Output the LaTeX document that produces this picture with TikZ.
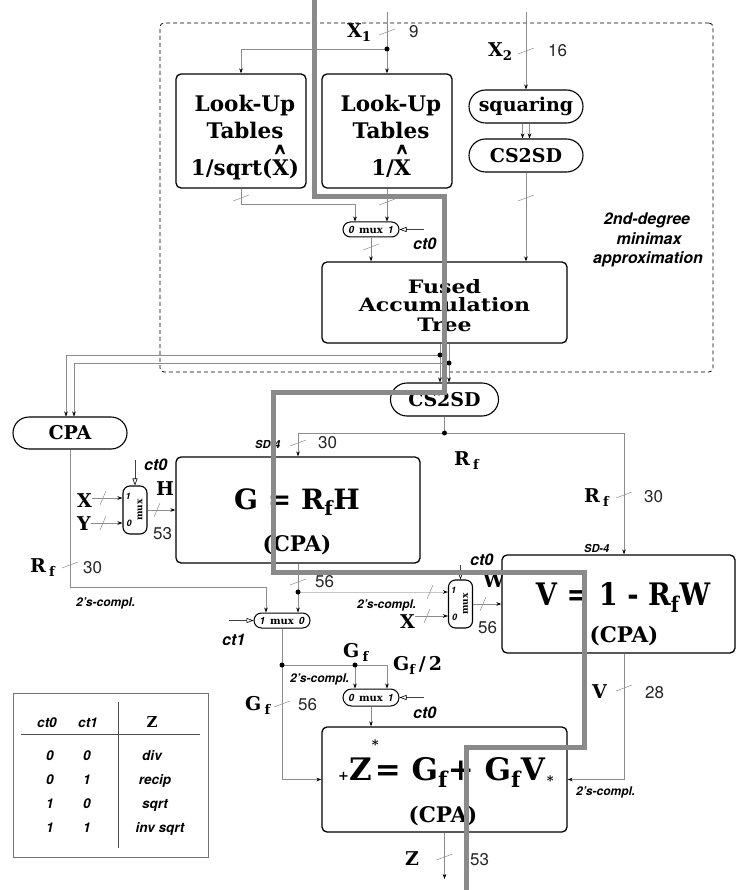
\documentclass[tikz,border=0pt]{standalone}
\usepackage{fontspec}
\setmainfont{DejaVu Serif}
\newfontfamily\hv{TeX Gyre Heros}
\usetikzlibrary{arrows.meta,shapes.misc}
\newcommand\fsz[1]{\fontsize{#1}{#1}\selectfont}
\newcommand\hatX{\setbox0\hbox{X}\rlap{\hbox to\wd0{\hss\smash{\raisebox{-0.5em}{\scalebox{1.3}[2.4]{\char"02C6}}}\hss}}X}
\newcommand\slv[1]{\draw[slashst] (#1) ++(-8,3) -- ++(16,-6);}
\newcommand\slh[1]{\draw[slashst] (#1) ++(-3,7) -- ++(6,-14);}
\begin{document}
\begin{tikzpicture}[x=1pt,y=-1pt,
  wire/.style={draw=black!45,line width=0.6pt},
  lwire/.style={draw=black!22,line width=0.9pt},
  arr/.style={-{Stealth[length=5pt,width=3.6pt,color=black]}},
  ctarr/.style={draw=black!75,line width=0.6pt,-{Triangle[open,length=7pt,width=5pt,color=black]}},
  box/.style={draw=black,line width=1.3pt,rounded corners=5pt,inner sep=0pt},
  pill/.style={draw=black,line width=1.1pt,rounded rectangle,inner sep=0pt,font=\bfseries\fsz{19}},
  vmux/.style={draw=black,line width=1.1pt,rounded corners=7pt,inner sep=0pt,minimum width=24pt,minimum height=48pt},
  hmux/.style={draw=black,line width=1pt,rounded rectangle,inner sep=0pt,minimum width=56pt,minimum height=15pt,font=\bfseries\fsz{10}},
  dot/.style={circle,fill=black,inner sep=0pt,minimum size=5pt},
  slashst/.style={draw=black!45,line width=0.5pt},
  lbl/.style={font=\bfseries\fsz{19},inner sep=0pt,anchor=base west},
  num/.style={font=\hv\fsz{17},inner sep=0pt,anchor=base west,text=black!85},
  ital/.style={font=\hv\bfseries\itshape\fsz{12},inner sep=0pt,anchor=base west},
  tital/.style={font=\hv\bfseries\itshape\fsz{13.5},inner sep=0pt,anchor=base},
  btxt/.style={font=\bfseries\fsz{21.5},inner sep=0pt,anchor=base},
  ftxt/.style={font=\bfseries\fsz{21},inner sep=0pt,anchor=base},
  gpath/.style={draw=black!46,line width=5pt},
  muxd/.style={font=\hv\bfseries\itshape\fsz{9},inner sep=0pt},
]
\fill[white] (0,0) rectangle (737,890);
\useasboundingbox (0,0) rectangle (737,890);

% dashed region
\node[draw=black,dash pattern=on 4pt off 3pt,line width=0.8pt,rounded corners=4pt,minimum width=553pt,minimum height=349pt,inner sep=0pt] (approx) at (436.5,197.5) {};
\node[font=\hv\bfseries\itshape\fsz{16},inner sep=0pt,anchor=base] (ap1) at (647,225) {2nd-degree};
\node[font=\hv\bfseries\itshape\fsz{16},inner sep=0pt,anchor=base] (ap2) at (649,245) {minimax};
\node[font=\hv\bfseries\itshape\fsz{16},inner sep=0pt,anchor=base] (ap3) at (648,264) {approximation};

% boxes
\node[box,minimum width=130pt,minimum height=114pt] (lut1) at (241,131) {};
\node[box,minimum width=130pt,minimum height=114pt] (lut2) at (387,131) {};
\node[pill,minimum width=114pt,minimum height=33pt] (sq) at (526,106.5) {squaring};
\node[pill,minimum width=114pt,minimum height=33pt] (cs1) at (526,155.5) {CS2SD};
\node[hmux] (mux1) at (371,229.5) {{\hv\itshape 0}\hspace{5pt}mux\hspace{5pt}{\hv\itshape 1}};
\node[box,minimum width=245pt,minimum height=81pt] (fat) at (444.5,302.5) {};
\node[pill,minimum width=108pt,minimum height=33pt] (cs2) at (444.5,399.5) {CS2SD};
\node[pill,minimum width=114pt,minimum height=32pt] (cpa) at (70,433) {CPA};
\node[vmux] (muxH) at (135,510) {};
\node[box,minimum width=244pt,minimum height=106pt] (gbox) at (298,510) {};
\node[hmux] (mux2) at (282,620.5) {{\hv\itshape 1}\hspace{5pt}mux\hspace{5pt}{\hv\itshape 0}};
\node[vmux] (muxW) at (460.5,604) {};
\node[box,minimum width=233pt,minimum height=98pt] (vbox) at (618.5,604) {};
\node[hmux,minimum height=17pt] (mux3) at (371,697.5) {{\hv\itshape 0}\hspace{5pt}mux\hspace{5pt}{\hv\itshape 1}};
\node[box,minimum width=245pt,minimum height=105pt] (zbox) at (444.5,779.5) {};

% vertical mux contents
\node[muxd] (mh1) at (128,496) {1};
\node[muxd] (mh0) at (129,523) {0};
\node[font=\bfseries\fsz{9},inner sep=0pt,rotate=90] (mhm) at (140,510) {mux};
\node[muxd] (mw1t) at (453.5,590) {1};
\node[muxd] (mw0t) at (454.5,617) {0};
\node[font=\bfseries\fsz{9},inner sep=0pt,rotate=90] (mwm) at (465.5,604) {mux};

% box texts
\node[btxt] (t1a) at (245,112) {Look-Up};
\node[btxt] (t1b) at (245,139) {Tables};
\node[btxt] (t1c) at (245,176) {1/sqrt(\hatX)};
\node[btxt] (t2a) at (391,112) {Look-Up};
\node[btxt] (t2b) at (391,139) {Tables};
\node[btxt] (t2c) at (391,176) {1/\hatX};
\node[ftxt] (f1) at (444.5,293) {\scalebox{1.05}[0.88]{Fused}};
\node[ftxt] (f2) at (444.5,311) {\scalebox{1.05}[0.88]{Accumulation}};
\node[ftxt] (f3) at (444.5,331) {\scalebox{1.05}[0.88]{Tree}};
\node[btxt,font=\bfseries\fsz{28}] (g1) at (297,509) {G = R\textsubscript{f}H};
\node[btxt] (g2) at (297,551) {(CPA)};
\node[btxt,font=\bfseries\fsz{31}] (v1) at (623,605) {\scalebox{0.88}[1]{V = 1 - R\textsubscript{f}W}};
\node[btxt] (v2) at (624,642) {(CPA)};
\node[btxt,font=\bfseries\fsz{31}] (z1) at (446,780) {{\fsz{13}+}Z\rlap{\raisebox{0.98em}{\fsz{13}*}}\kern3pt= G\textsubscript{f}+\ G\textsubscript{f}V\kern2pt\raisebox{-0.18em}{\fsz{13}*}};
\node[btxt] (z2) at (443,822) {(CPA)};

% coordinates
\coordinate (x1in) at (387,12);
\coordinate (d1) at (387,49);
\coordinate (x2in) at (526,12);
\coordinate (c0a) at (424,229.5);
\coordinate (da) at (440,355);
\coordinate (db) at (449,363);
\coordinate (dr) at (444.5,433);
\coordinate (vx) at (624,0);
\coordinate (cpay) at (0,587);
\coordinate (c0h) at (135,460);
\coordinate (mhi1) at ([yshift=12pt]muxH.west);
\coordinate (mhi0) at ([yshift=-13pt]muxH.west);
\coordinate (mwi1) at ([yshift=12pt]muxW.west);
\coordinate (mwi0) at ([yshift=-12pt]muxW.west);
\coordinate (dg) at (298,592);
\coordinate (c1) at (229,620.5);
\coordinate (dgf) at (282,665);
\coordinate (dgf2) at (355,665);
\coordinate (c0c) at (424,697.5);
\coordinate (c0w) at (460.5,565);
\coordinate (zout) at (444.5,879);

% labels
\node[lbl] (lx1) at (347,38) {X\textsubscript{1}};
\node[num] (n9) at (409,38) {9};
\node[lbl] (lx2) at (488,57) {X\textsubscript{2}};
\node[num] (n16) at (548,57) {16};
\node[ital,font=\hv\bfseries\itshape\fsz{16}] (ct0a) at (413,250) {ct0};
\node[ital,font=\hv\bfseries\itshape\fsz{11}] (sd4a) at (255,448) {SD-4};
\node[num] (n30a) at (318,448) {30};
\node[lbl] (lrf1) at (454,465) {R\,\textsubscript{f}};
\node[lbl] (lrf2) at (584,502) {R\,\textsubscript{f}};
\node[num] (n30b) at (644,502) {30};
\node[ital,font=\hv\bfseries\itshape\fsz{11}] (sd4b) at (584,552) {SD-4};
\node[ital,font=\hv\bfseries\itshape\fsz{16}] (ct0b) at (144,470) {ct0};
\node[lbl] (lX) at (77,507) {X};
\node[lbl] (lY) at (77,530) {Y};
\node[lbl] (lH) at (156,495) {H};
\node[num] (n53a) at (153,539) {53};
\node[lbl] (lrf3) at (30,572) {R\,\textsubscript{f}};
\node[num] (n30c) at (83,573) {30};
\node[ital] (tc1) at (76,606) {2’s-compl.};
\node[num] (n56a) at (315,587) {56};
\node[ital,font=\hv\bfseries\itshape\fsz{16}] (ct0c) at (470,565) {ct0};
\node[lbl] (lW) at (483,587) {W};
\node[num] (n56b) at (478,633) {56};
\node[ital] (tc2) at (357,608) {2’s-compl.};
\node[lbl] (lXw) at (400,628) {X};
\node[ital,font=\hv\bfseries\itshape\fsz{16}] (ct1) at (222,645) {ct1};
\node[lbl] (lgf1) at (343,657) {G\,\textsubscript{f}};
\node[lbl] (lgf2) at (393,670) {G\textsubscript{f}\,/\,2};
\node[ital] (tc3) at (290,682) {2’s-compl.};
\node[lbl] (lgf3) at (245,710) {G\,\textsubscript{f}};
\node[num] (n56c) at (298,710) {56};
\node[ital,font=\hv\bfseries\itshape\fsz{16}] (ct0d) at (413,718) {ct0};
\node[lbl] (lV) at (592,698) {V};
\node[num] (n28) at (645,698) {28};
\node[ital] (tc4) at (576,795) {2’s-compl.};
\node[lbl] (lZ) at (405,865) {Z};
\node[num] (n53b) at (470,865) {53};

% connectors
\draw[wire,arr] (x1in) -- (lut2.north);
\draw[wire,arr] (d1) -| (lut1.north);
\draw[wire,arr] (x2in) -- (sq.north);
\draw[wire,arr] ([xshift=-3.5pt]sq.south) -- ([xshift=-3.5pt]cs1.north);
\draw[wire,arr] ([xshift=3.5pt]sq.south) -- ([xshift=3.5pt]cs1.north);
\draw[wire,arr] (cs1.south) -- (cs1.south |- fat.north);
\draw[wire,arr] (lut1.south) -- ++(0,16) -| ([xshift=-16pt]mux1.north);
\draw[wire,arr] (lut2.south) -- ([xshift=16pt]mux1.north);
\draw[ctarr] (c0a) -- (mux1.east);
\draw[wire,arr] (mux1.south) -- (mux1.south |- fat.north);
\draw[wire,arr] ([xshift=-4.5pt]fat.south) -- ([xshift=-4.5pt]fat.south |- cs2.north);
\draw[wire,arr] ([xshift=4.5pt]fat.south) -- ([xshift=4.5pt]fat.south |- cs2.north);
\draw[wire,arr] (da) -| ([xshift=-4pt]cpa.north);
\draw[wire,arr] (db) -| ([xshift=4pt]cpa.north);
\draw[wire] (cs2.south) -- (dr);
\draw[wire,arr] (dr) -| (gbox.north);
\draw[wire,arr] (dr) -| (vbox.north -| vx);
\draw[ctarr] (c0h) -- (muxH.north);
\draw[wire,arr] (lX.east |- mhi1) -- (mhi1);
\draw[wire,arr] (lY.east |- mhi0) -- (mhi0);
\draw[wire,arr] (muxH.east) -- (muxH.east -| gbox.west);
\draw[wire,arr] (cpa.south) -- (cpa.south |- cpay) -| ([xshift=-16pt]mux2.north);
\draw[wire,arr] (gbox.south) -- ([xshift=16pt]mux2.north);
\draw[lwire,arr] (dg) -- (mwi1);
\draw[wire,arr] (lXw.east |- mwi0) -- (mwi0);
\draw[ctarr] (c0w) -- (muxW.north);
\draw[wire,arr] (muxW.east) -- (muxW.east -| vbox.west);
\draw[ctarr] (c1) -- (mux2.west);
\draw[wire] (mux2.south) -- (dgf);
\draw[wire,arr] (dgf) |- (zbox.west);
\draw[wire] (dgf) -- (dgf2);
\draw[wire,arr] (dgf2) -| ([xshift=16pt]mux3.north);
\draw[wire,arr] (dgf2) -- ([xshift=-16pt]mux3.north);
\draw[ctarr] (c0c) -- (mux3.east);
\draw[wire,arr] (mux3.south) -- (mux3.south |- zbox.north);
\draw[wire,arr] (vbox.south -| vx) |- (zbox.east);
\draw[wire,arr] (zbox.south) -- (zout);

% bus-width slashes
\slv{387,32}
\slv{526,51}
\slv{241,198}
\slv{387,202}
\slv{526,198}
\slv{371,247}
\slv{298,443}
\slv{624,495}
\slv{70,565}
\slv{298,582}
\slv{282,704}
\slv{624,688}
\slv{444.5,857}
\slh{430,592}
\slh{427,616}
\slh{483,604}
\slh{103,498}
\slh{103,523}
\slh{157,510}

% junction dots
\node[dot] (d1p) at (d1) {};
\node[dot] (dap) at (da) {};
\node[dot] (dbp) at (db) {};
\node[dot] (drp) at (dr) {};
\node[dot] (dgp) at (dg) {};
\node[dot] (dgfp) at (dgf) {};
\node[dot] (dgf2p) at (dgf2) {};

% table
\node[draw=black!55,line width=0.7pt,minimum width=195pt,minimum height=164pt,inner sep=0pt] (tab) at (110.5,775) {};
\draw[black!70,line width=0.6pt] (21,734) -- (200,734);
\draw[black!70,line width=0.6pt] (118,702) -- (118,848);
\node[tital] (h1) at (47,727) {ct0};
\node[tital] (h2) at (88,727) {ct1};
\node[font=\bfseries\fsz{15},inner sep=0pt,anchor=base] (h3) at (152,727) {Z};
\node[tital] (r11) at (50,760) {0};
\node[tital] (r12) at (87,760) {0};
\node[tital] (r13) at (152,760) {div};
\node[tital] (r21) at (50,784) {0};
\node[tital] (r22) at (87,784) {1};
\node[tital] (r23) at (155,784) {recip};
\node[tital] (r31) at (50,808) {1};
\node[tital] (r32) at (87,808) {0};
\node[tital] (r33) at (155,808) {sqrt};
\node[tital] (r41) at (50,832) {1};
\node[tital] (r42) at (87,832) {1};
\node[tital] (r43) at (160,832) {inv sqrt};

% thick gray path
\draw[gpath] (314,0) -- (314,197) -- (444,197) -- (444,392) -- (273,392) -- (273,572) -- (584,572) -- (584,747) -- (466,747) -- (466,890);
\end{tikzpicture}
\end{document}
